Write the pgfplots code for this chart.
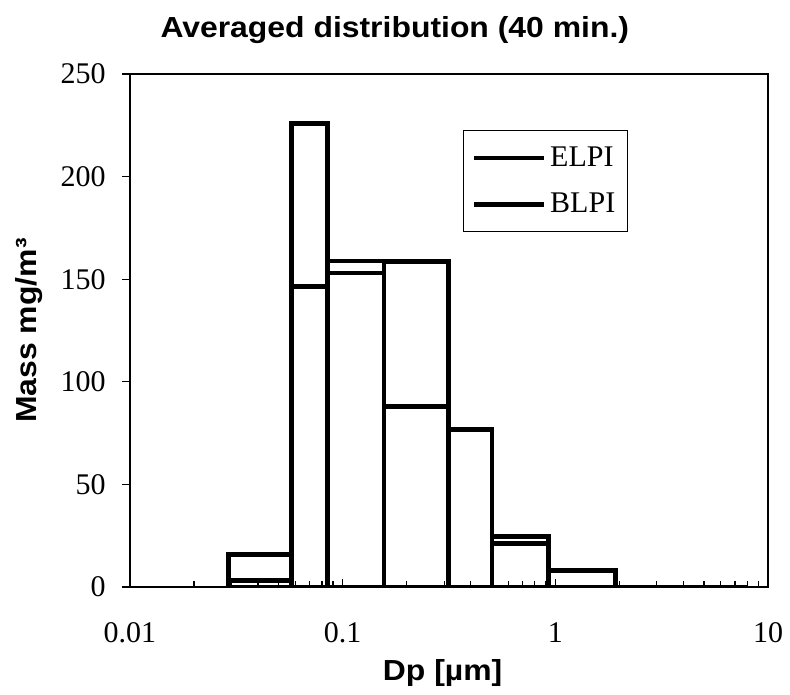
\documentclass[border=0pt]{standalone}
\usepackage{fontspec}
\setmainfont{Liberation Serif}
\newfontfamily\arial[FakeStretch=1.1]{Liberation Sans}
\usepackage{pgfplots}
\pgfplotsset{compat=1.18}
\usetikzlibrary{calc}

\begin{document}
\begin{tikzpicture}
\begin{axis}[
  name=ax,
  scale only axis,
  width=319pt, height=256.5pt,
  xmode=log,
  xmin=0.01, xmax=10,
  ymin=0, ymax=250,
  xtick={0.01,0.1,1,10},
  xticklabels={0.01,0.1,1,10},
  ytick={0,50,100,150,200,250},
  yticklabels={0,50,100,150,200,250},
  xtick pos=bottom, ytick pos=left,
  tick align=inside,
  major tick length=4pt, minor tick length=3pt,
  tick style={line width=0.6pt, black},
  ytick style={xshift=-4pt},
  axis line style={line width=0.6pt},
  yticklabel style={font=\fontsize{15}{15}\selectfont, anchor=east, inner sep=0pt, xshift=-12pt},
  xticklabel style={font=\fontsize{15}{15}\selectfont, anchor=north, inner sep=0pt, yshift=-17.5pt},
  title={Averaged distribution (40 min.)},
  title style={at={(axis description cs:0.415,1.0702)}, anchor=base, inner sep=0pt, yshift=-6pt,
    font=\arial\bfseries\fontsize{14.5}{14.5}\selectfont},
  xlabel={Dp [µm]},
  xlabel style={at={(axis description cs:0.49,-0.1813)}, anchor=base, inner sep=0pt,
    font=\arial\bfseries\fontsize{14.5}{14.5}\selectfont},
  ylabel={Mass mg/m³},
  ylabel style={at={(axis description cs:-0.1473,0.5)}, anchor=base, inner sep=0pt,
    font=\arial\bfseries\fontsize{14.5}{14.5}\selectfont},
  legend style={at={(axis description cs:0.522,0.891)}, anchor=north west,
    draw=black, line width=0.6pt, font=\fontsize{15}{15}\selectfont,
    inner xsep=4pt, inner ysep=6pt, row sep=8pt,
    /tikz/every even column/.append style={column sep=0pt}},
  legend cell align=left,
  legend image code/.code={\draw[#1, line width=2.3pt] (0pt,0pt) -- (35pt,0pt);},
]
% ELPI
\addplot[ybar interval, draw=black, fill=none, line width=2.3pt, line join=miter, forget plot]
  coordinates {(0.029,15.8) (0.0574,226) (0.0848,158.9) (0.1564,158.7) (0.314,76.9) (0.504,24.7) (0.929,7.9) (1.918,0) (8.05,0)};
% BLPI
\addplot[ybar interval, draw=black, fill=none, line width=2.3pt, line join=miter, forget plot]
  coordinates {(0.029,3.1) (0.0574,146.3) (0.0848,153) (0.1564,87.9) (0.314,76.9) (0.504,21.1) (0.929,7.9) (1.918,0) (8.05,0)};
\addlegendimage{black}
\addlegendentry{ELPI}
\addlegendimage{black}
\addlegendentry{BLPI}
\end{axis}
\pgfresetboundingbox
\path[use as bounding box] ($(ax.south west)+(-65pt,-53.5pt)$) rectangle ($(ax.north east)+(11pt,37pt)$);
\end{tikzpicture}
\end{document}
